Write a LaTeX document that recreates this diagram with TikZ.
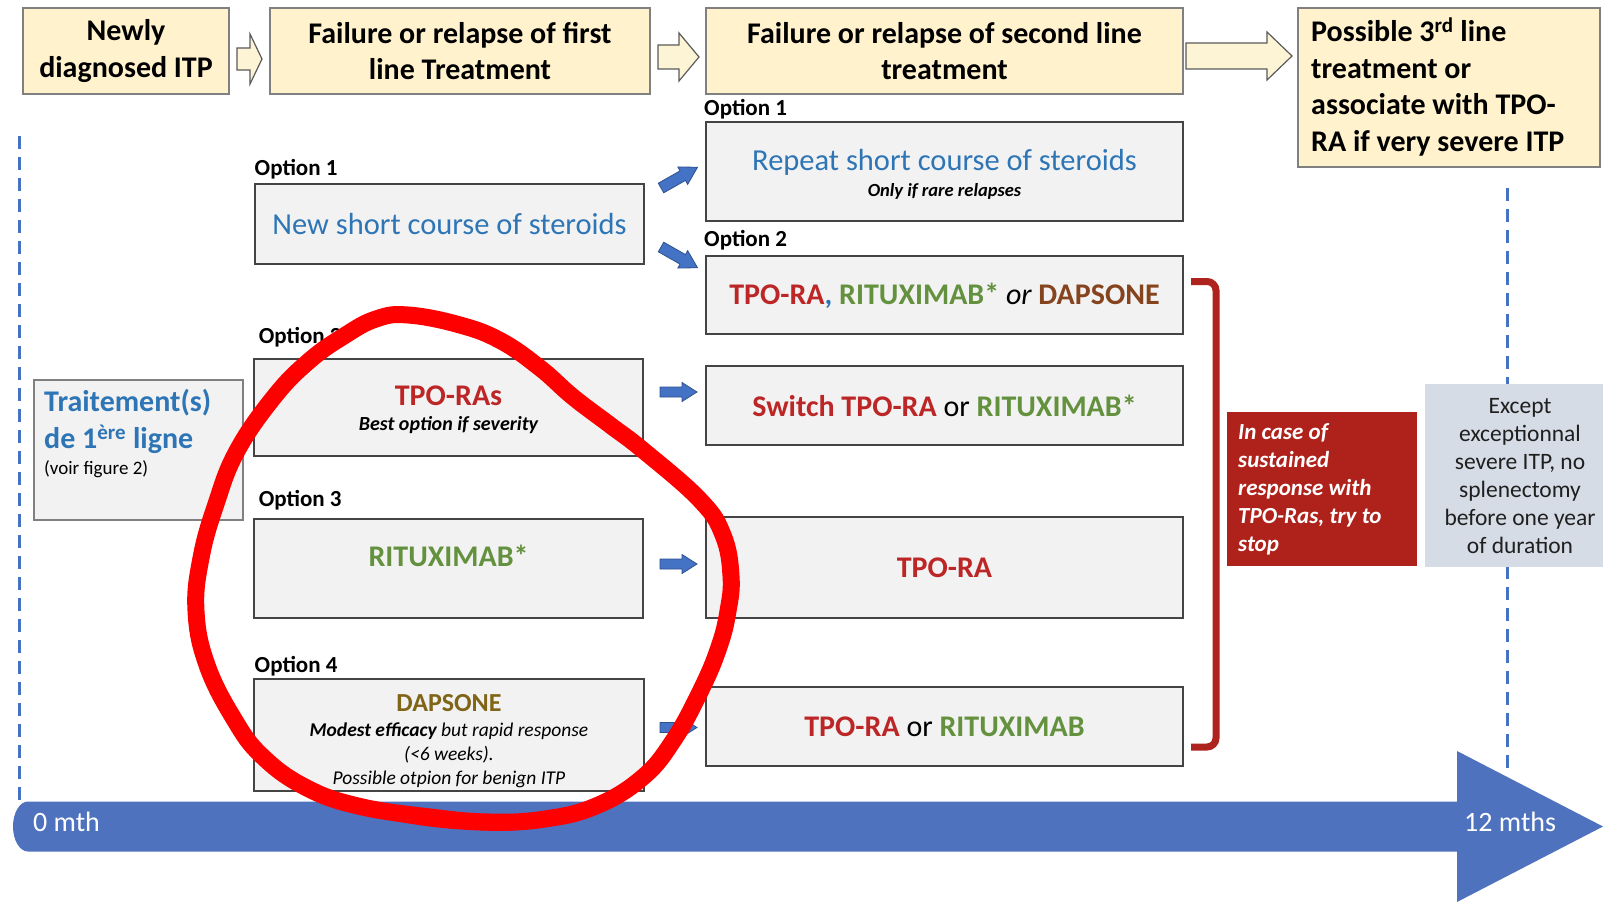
\documentclass[tikz,border=0pt]{standalone}
\usepackage{fontspec}
\setmainfont{Carlito}
\usetikzlibrary{calc}
\definecolor{hdrfill}{RGB}{255,242,204}
\definecolor{hdrline}{RGB}{128,128,128}
\definecolor{arrfill}{RGB}{253,244,214}
\definecolor{arrdraw}{RGB}{90,90,90}
\definecolor{optfill}{RGB}{242,242,242}
\definecolor{optline}{RGB}{68,68,68}
\definecolor{tblue}{RGB}{46,117,182}
\definecolor{tred}{RGB}{189,38,38}
\definecolor{tgreen}{RGB}{100,145,62}
\definecolor{tbrown}{RGB}{133,68,30}
\definecolor{tolive}{RGB}{128,100,24}
\definecolor{brkred}{RGB}{175,35,30}
\definecolor{redbox}{RGB}{175,33,27}
\definecolor{greybox}{RGB}{214,220,229}
\definecolor{tlblue}{RGB}{79,114,190}
\definecolor{dashblue}{RGB}{68,114,196}
\definecolor{arrblue}{RGB}{68,114,196}
\definecolor{arrline}{RGB}{47,82,143}
\definecolor{markred}{RGB}{255,0,0}
\newcommand\fsz[2]{\fontsize{#1}{#2}\selectfont}
% style, tail point, angle, shaft length, total length, shaft half width, head half width
\newcommand\blockarr[7]{\path[#1,shift={#2},rotate=#3] (0,-#6) -- (#4,-#6) -- (#4,-#7) -- (#5,0) -- (#4,#7) -- (#4,#6) -- (0,#6) -- cycle;}
\begin{document}
\begin{tikzpicture}[x=1pt,y=-1pt,
 hdr/.style={draw=hdrline, fill=hdrfill, line width=1.3pt, inner sep=0pt, align=center, font=\bfseries\fsz{30}{36.6}},
 optbox/.style={draw=optline, fill=optfill, line width=1.3pt, inner sep=0pt},
 optlbl/.style={anchor=west, inner sep=0pt, font=\bfseries\fsz{23}{27}},
 regtxt/.style={inner sep=0pt, font=\fsz{30.5}{36}},
 boldtxt/.style={inner sep=0pt, font=\bfseries\fsz{30}{36}},
 subtxt/.style={inner sep=0pt, font=\bfseries\itshape\fsz{20}{24}},
 dtxt/.style={inner sep=0pt, font=\itshape\fsz{19.5}{24}},
 hollowarr/.style={draw=arrdraw, fill=arrfill, line width=1.2pt, line join=miter},
 bluearr/.style={draw=arrline, fill=arrblue, line width=0.8pt},
 vdash/.style={draw=dashblue, line width=3pt, dash pattern=on 13pt off 8pt},
]
\useasboundingbox (0,0) rectangle (1603,904);
\clip (0,0) rectangle (1603,904);
\fill[white] (0,0) rectangle (1603,904);

% dashed time markers
\coordinate (ldtop) at (19.5,136); \coordinate (ldbot) at (19.5,806);
\coordinate (rdtop) at (1507,188); \coordinate (rdbot) at (1507,772);
\draw[vdash] (ldtop) -- (ldbot);
\draw[vdash] (rdtop) -- (rdbot);

% header row
\node[hdr, minimum width=206, minimum height=86] (A) at (126,51) {Newly\\diagnosed ITP};
\node[hdr, minimum width=380, minimum height=86] (B) at (460,51) {Failure or relapse of first\\line Treatment};
\node[hdr, minimum width=477, minimum height=86] (C) at (944.5,51) {Failure or relapse of second line\\treatment};
\node[hdr, minimum width=302, minimum height=159] (D) at (1449,87.5) {};
\node[inner sep=0pt, anchor=west, align=left, font=\bfseries\fsz{30}{36.6}] (Dt) at (1311,87) {Possible 3\textsuperscript{rd} line\\treatment or\\associate with TPO-\\RA if very severe ITP};

\blockarr{hollowarr}{(237,59)}{0}{13}{25}{11}{25}
\blockarr{hollowarr}{(658,57)}{0}{21}{41}{12}{24}
\blockarr{hollowarr}{(1186,56)}{0}{81}{106}{13}{24}

% first column (second line options)
\node[optlbl] (o1) at (254.5,169) {Option 1};
\node[optbox, minimum width=389, minimum height=80] (L1) at (449.5,224) {};
\node[regtxt, text=tblue] (L1t) at (449.5,224) {New short course of steroids};

\node[optlbl] (o2) at (258.6,337) {Option 2};
\node[optbox, minimum width=389, minimum height=97] (L2) at (448.5,407.5) {};
\node[boldtxt, text=tred] (L2t) at (448.5,395.5) {TPO-RAs};
\node[subtxt] (L2s) at (448.5,425.5) {Best option if severity};

\node[optlbl] (o3) at (258.6,500) {Option 3};
\node[optbox, minimum width=389, minimum height=99] (L3) at (448.5,568.5) {};
\node[boldtxt, text=tgreen] (L3t) at (448.5,556) {RITUXIMAB*};

\node[optlbl] (o4) at (254.5,666.5) {Option 4};
\node[optbox, minimum width=390, minimum height=112] (L4) at (449,735) {};
\node[inner sep=0pt, font=\bfseries\fsz{26}{30}, text=tolive] (L4t) at (449,703) {DAPSONE};
\node[dtxt] (L4a) at (449,731) {\textbf{Modest efficacy} but rapid response};
\node[dtxt] (L4b) at (449,755) {(<6 weeks).};
\node[dtxt] (L4c) at (449,779) {Possible otpion for benign ITP};

% first line box
\node[optbox, draw=hdrline, minimum width=209, minimum height=140] (T) at (138.5,450) {};
\node[inner sep=0pt, anchor=west, font=\bfseries\fsz{30}{36}, text=tblue] (T1) at (44,403) {Traitement(s)};
\node[inner sep=0pt, anchor=west, font=\bfseries\fsz{30}{36}, text=tblue] (T2) at (44,439.5) {de 1\textsuperscript{ère} ligne};
\node[inner sep=0pt, anchor=west, font=\fsz{19}{23}] (T3) at (44,469.5) {(voir figure 2)};

% second column (third line)
\node[optlbl] (p1) at (704,109) {Option 1};
\node[optbox, minimum width=477, minimum height=99] (R1) at (944.5,171.5) {};
\node[regtxt, text=tblue] (R1t) at (944.5,162) {Repeat short course of steroids};
\node[subtxt, font=\bfseries\itshape\fsz{18.5}{22}] (R1s) at (944.5,191) {Only if rare relapses};

\node[optlbl] (p2) at (704,240) {Option 2};
\node[optbox, minimum width=477, minimum height=78] (R2) at (944.5,295) {};
\node[boldtxt] (R2t) at (944.5,295.5) {\textcolor{tred}{TPO-RA}\textcolor{tblue}{,} \textcolor{tgreen}{RITUXIMAB*} {\mdseries\itshape or} \textcolor{tbrown}{DAPSONE}};

\node[optbox, minimum width=477, minimum height=79] (R3) at (944.5,405.5) {};
\node[boldtxt] (R3t) at (944.5,406) {\textcolor{tred}{Switch TPO-RA} {\mdseries or} \textcolor{tgreen}{RITUXIMAB*}};

\node[optbox, minimum width=477, minimum height=101] (R4) at (944.5,567.5) {};
\node[boldtxt, text=tred] (R4t) at (944.5,567.5) {TPO-RA};

\node[optbox, minimum width=477, minimum height=79] (R5) at (944.5,726.5) {};
\node[boldtxt] (R5t) at (944.5,727) {\textcolor{tred}{TPO-RA} {\mdseries or} \textcolor{tgreen}{RITUXIMAB}};

% blue block arrows between columns
\blockarr{bluearr}{(661,188)}{29.6}{25}{42}{5.5}{10}
\blockarr{bluearr}{(661,247)}{-29.6}{25}{42}{5.5}{10}
\blockarr{bluearr}{(660,392)}{0}{22}{37}{5}{9.5}
\blockarr{bluearr}{(660,564)}{0}{22}{37}{5}{9.5}
\blockarr{bluearr}{(660,727.5)}{0}{22}{37}{5}{9.5}

% bracket
\coordinate (bt) at (1191,281.5); \coordinate (bb) at (1191,747);
\draw[brkred, line width=7pt, rounded corners=9pt] (bt) -- (1216,281.5) -- (1216,747) -- (bb);

% red note
\node[fill=redbox, inner sep=0pt, minimum width=190, minimum height=154] (RB) at (1322,489) {};
\node[inner sep=0pt, anchor=west, align=left, text=white, font=\bfseries\itshape\fsz{23}{28}] (RBt) at (1238,489) {In case of\\sustained\\response with\\TPO-Ras, try to\\stop};

% grey note
\node[fill=greybox, inner sep=0pt, minimum width=190, minimum height=183] (GB) at (1520,475.5) {};
\node[inner sep=0pt, align=center, text=black!88, font=\fsz{23.5}{28}] (GBt) at (1520,476) {Except\\exceptionnal\\severe ITP, no\\splenectomy\\before one year\\of duration};

% timeline
\fill[tlblue] (1457,801.5) -- (1457,751) -- (1603,826.5) -- (1457,902) -- (1457,851.5) -- (28,851.5) arc[start angle=90, end angle=270, x radius=15, y radius=25] -- cycle;
\node[anchor=west, inner sep=0pt, text=white, font=\fsz{28}{32}] (t0) at (33,822) {0 mth};
\node[anchor=west, inner sep=0pt, text=white, font=\fsz{28}{32}] (t12) at (1464,822) {12 mths};

% red hand-drawn mark
\draw[markred, line width=17pt, line join=round] plot[smooth cycle, tension=0.7] coordinates {
 (408,315) (460,325) (501,341) (540,368) (573,397) (610,425) (644,451) (700,500) (723,535) (731,576)
 (728,611) (719,647) (701,690) (673,741) (642,778) (596,806) (545,819) (490,822) (430,817) (358,806) (305,787)
 (262,756) (234,719) (207,665) (196,611) (201,558) (216,504) (237,451) (274,397) (309,361) (344,336) (376,319)};
\draw[markred, line width=4pt, line cap=round] plot[smooth, tension=0.7] coordinates {
 (330,804) (400,820) (470,828) (530,827) (580,817)};
\end{tikzpicture}
\end{document}
